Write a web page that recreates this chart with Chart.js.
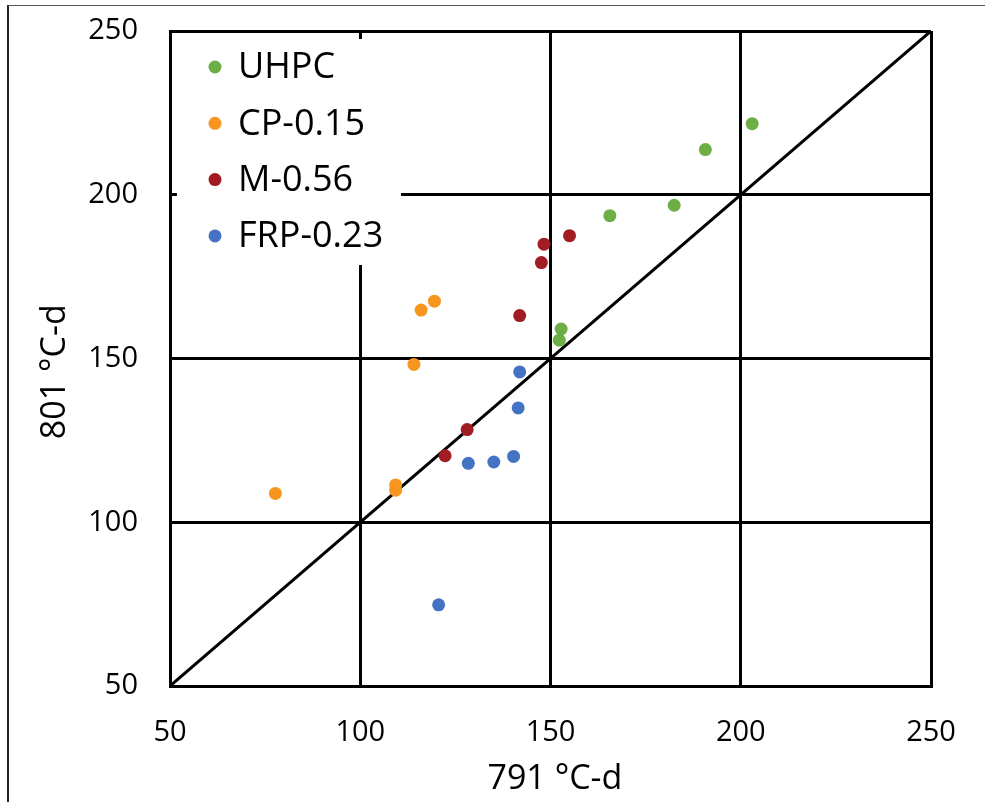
<!DOCTYPE html>
<html>
<head>
<meta charset="utf-8">
<script src="https://cdn.jsdelivr.net/npm/chart.js@4/dist/chart.umd.min.js"></script>
<style>
    html, body { margin: 0; padding: 0; background: #fff; }
    #frame {
        position: absolute; left: 7px; top: 5px; width: 990px; height: 810px;
        border-left: 2px solid #222; border-top: 1px solid #555;
    }
    #wrap { position: absolute; left: 0; top: 0; width: 985px; height: 802px; }
</style>
</head>
<body>
<div id="frame"></div>
<div id="wrap"><canvas id="chart" width="985" height="802"></canvas></div>
<script>
// Series (x = 791 °C-d, y = 801 °C-d)
const uhpcX = [203.0, 190.7, 182.5, 165.6, 152.8, 152.3];
const uhpcY = [221.7, 213.8, 196.8, 193.6, 159.0, 155.6];

const cpX = [119.5, 116.0, 114.1, 109.3, 109.3, 77.7];
const cpY = [167.5, 164.8, 148.2, 111.4, 109.8, 108.8];

const mX = [141.9, 128.1, 122.3, 148.3, 147.6, 155.0];
const mY = [163.1, 128.3, 120.3, 184.9, 179.3, 187.5];

const frpX = [141.9, 141.5, 140.3, 135.1, 128.4, 120.6];
const frpY = [145.9, 134.9, 120.1, 118.4, 118.0, 74.8];

// 1:1 reference line
const lineX = [50, 250];
const lineY = [50, 250];

const seriesNames = ['UHPC', 'CP-0.15', 'M-0.56', 'FRP-0.23'];
const seriesColors = ['#6DAE45', '#F7961E', '#A21D23', '#4472C4'];

const axisMin = 50;
const axisMax = 250;
const axisStep = 50;

const FONT = "'Open Sans', 'Noto Sans', sans-serif";

function toPoints(xs, ys) {
    return xs.map((x, i) => ({ x: x, y: ys[i] }));
}

const pointSets = [
    toPoints(uhpcX, uhpcY),
    toPoints(cpX, cpY),
    toPoints(mX, mY),
    toPoints(frpX, frpY)
];

const datasets = pointSets.map((pts, i) => ({
    type: 'scatter',
    label: seriesNames[i],
    data: pts,
    backgroundColor: seriesColors[i],
    borderWidth: 0,
    pointRadius: 6.5,
    pointHoverRadius: 6.5,
    order: 0
}));

datasets.push({
    type: 'line',
    label: '1:1',
    data: toPoints(lineX, lineY),
    borderColor: '#000',
    borderWidth: 3,
    pointRadius: 0,
    fill: false,
    order: 10
});

// Legend inside the plot with a white box that hides the grid behind it
const boxLegend = {
    id: 'boxLegend',
    beforeDatasetsDraw(chart) {
        const ctx = chart.ctx;
        const area = chart.chartArea;
        const bx = area.left + 7;
        const by = area.top + 8;
        ctx.save();
        ctx.fillStyle = '#fff';
        ctx.fillRect(bx, by, 224, 226);
        ctx.font = '36px ' + FONT;
        ctx.textBaseline = 'middle';
        ctx.textAlign = 'left';
        seriesNames.forEach((name, i) => {
            const cy = by + 28 + i * 56.3;
            ctx.fillStyle = seriesColors[i];
            ctx.beginPath();
            ctx.arc(bx + 38, cy, 6.5, 0, Math.PI * 2);
            ctx.fill();
            ctx.fillStyle = '#000';
            ctx.fillText(name, bx + 61, cy + 1);
        });
        ctx.restore();
    }
};

new Chart(document.getElementById('chart'), {
    data: { datasets: datasets },
    options: {
        responsive: false,
        animation: false,
        events: [],
        layout: { padding: { top: 31, right: 54, left: 0, bottom: 0 } },
        plugins: {
            legend: { display: false },
            tooltip: { enabled: false }
        },
        scales: {
            x: {
                type: 'linear',
                min: axisMin,
                max: axisMax,
                ticks: { stepSize: axisStep, color: '#000', padding: 29, font: { family: FONT, size: 29 } },
                grid: { color: '#000', lineWidth: 3, drawTicks: false },
                border: { color: '#000', width: 3 },
                title: { display: true, text: '\u00A0791 °C-d', color: '#000', font: { family: FONT, size: 34 }, padding: { top: 0, bottom: 2 } },
                afterFit: (s) => { s.height = 116; }
            },
            y: {
                type: 'linear',
                min: axisMin,
                max: axisMax,
                ticks: { stepSize: axisStep, color: '#000', padding: 32, font: { family: FONT, size: 29 } },
                grid: { color: '#000', lineWidth: 3, drawTicks: false },
                border: { color: '#000', width: 3 },
                // trailing spaces nudge the rotated title down a little, as in the original
                title: { display: true, text: '801 °C-d\u00A0\u00A0\u00A0', color: '#000', font: { family: FONT, size: 34 }, padding: { top: 35, bottom: 0 } },
                afterFit: (s) => {
                    s.width = 170;
                    s.paddingTop = 10;
                    s.paddingBottom = 10;
                }
            }
        }
    },
    plugins: [boxLegend]
});
</script>
</body>
</html>
